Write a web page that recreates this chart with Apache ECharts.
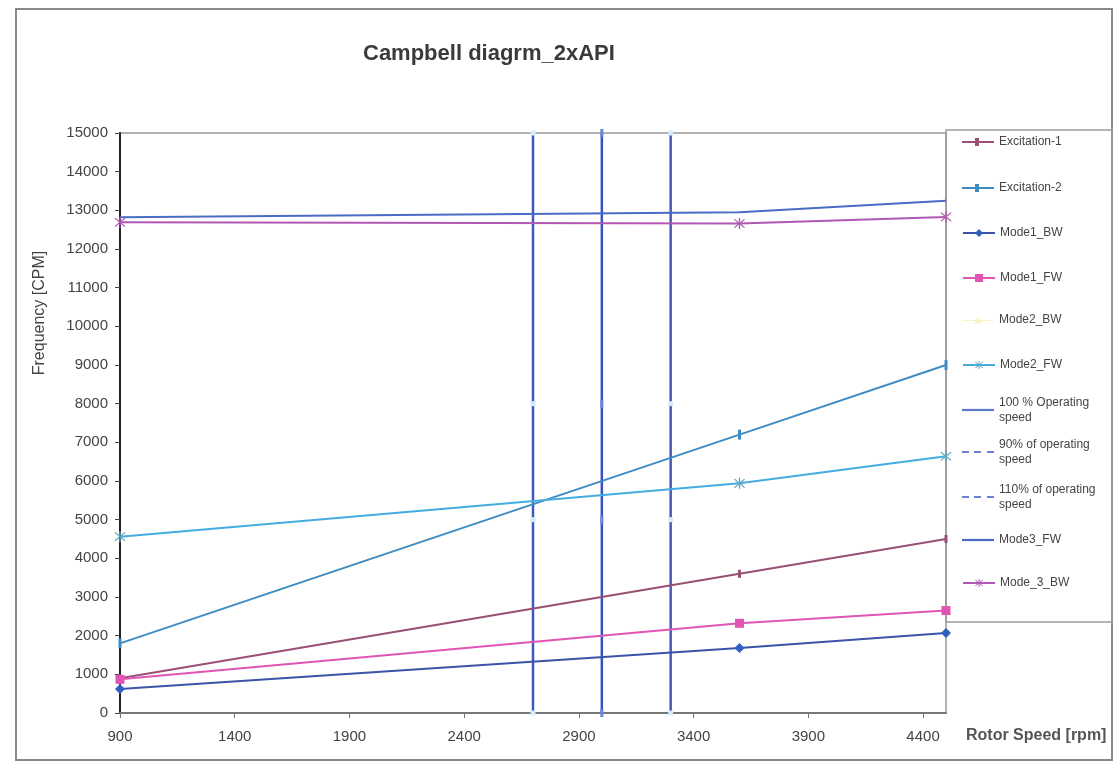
<!DOCTYPE html>
<html>
<head>
<meta charset="utf-8">
<script src="https://cdn.jsdelivr.net/npm/echarts@6/dist/echarts.min.js"></script>
<style>
html,body{margin:0;padding:0;background:#fff;}
#chart{width:1117px;height:764px;}
</style>
</head>
<body>
<div id="chart"></div>
<script>
// ---- data ----
const speedPoints = [900, 3600, 4500];           // rotor speed [rpm]
const excitation1 = [900, 3600, 4500];           // 1x
const excitation2 = [1800, 7200, 9000];          // 2x
const mode1BW = [620, 1680, 2070];
const mode1FW = [870, 2320, 2650];
const mode2BW = [];                              // not visible in the picture
const mode2FW = [4560, 5940, 6640];
const mode3FW = [12820, 12950, 13250];
const mode3BW = [12690, 12660, 12830];
const operatingSpeed = 3000;
const speed90 = 2700;
const speed110 = 3300;
const verticalFreqs = [0, 5000, 8000, 15000];
const xTicks = {min: 900, max: 4500, interval: 500};
const yTicks = {min: 0, max: 15000, interval: 1000};

const FONT = "'Liberation Sans', Arial, sans-serif";
const plusPath = 'path://M-1,-6H1V6H-1Z';
const legendPlus = 'path://M0,5H13V7H0Z M13,2H17V10H13Z M17,5H32V7H17Z';
const legendTri = 'path://M0,5.4H32V6.6H0Z M16,2L20,9H12Z';
const starPath = 'path://M-0.6,-6H0.6V6H-0.6Z M-5,-4.2L-4.2,-5L5,4.2L4.2,5Z M5,-4.2L4.2,-5L-5,4.2L-4.2,5Z';
const solidLine = 'path://M0,0H32V2.2H0Z';
const dashLine = 'path://M0,0H7V2.2H0Z M12,0H19V2.2H12Z M25,0H32V2.2H25Z';

function pairs(xs, ys){ return ys.map((y,i)=>[xs[i], y]); }
function vertical(x){ return verticalFreqs.map(f=>[x, f]); }

const series = [
  {name:'Excitation-1', color:'#9a4f74', data:pairs(speedPoints, excitation1), symbol:plusPath, symbolSize:[3,8], icon:legendPlus},
  {name:'Excitation-2', color:'#3f8cc2', data:pairs(speedPoints, excitation2), symbol:plusPath, symbolSize:[3,10], icon:legendPlus},
  {name:'Mode1_BW', color:'#3a55a8', data:pairs(speedPoints, mode1BW), symbol:'diamond', symbolSize:10, mcolor:'#2f5fc0'},
  {name:'Mode1_FW', color:'#e055b4', data:pairs(speedPoints, mode1FW), symbol:'rect', symbolSize:9},
  {name:'Mode2_BW', color:'#f6f4c0', data:mode2BW, symbol:'triangle', symbolSize:8, icon:legendTri},
  {name:'Mode2_FW', color:'#45ace0', data:pairs(speedPoints, mode2FW), symbol:starPath, symbolSize:11, mcolor:'#5aa6c0'},
  {name:'100 % Operating\nspeed', color:'#3b4fc0', data:vertical(operatingSpeed), symbol:plusPath, symbolSize:[3,8], width:2.5, mcolor:'#6a88d8', icon:solidLine, licolor:'#5b7bc8'},
  {name:'90% of operating\nspeed', color:'#4257c4', data:vertical(speed90), symbol:'rect', symbolSize:5, width:2.5, mcolor:'#d4ecfa', icon:dashLine, licolor:'#6a82cc'},
  {name:'110% of operating\nspeed', color:'#4a58b4', data:vertical(speed110), symbol:'rect', symbolSize:5, width:2.5, mcolor:'#d4ecfa', icon:dashLine, licolor:'#6a82cc'},
  {name:'Mode3_FW', color:'#4a6cc4', data:pairs(speedPoints, mode3FW), symbol:'none', symbolSize:0, icon:solidLine},
  {name:'Mode_3_BW', color:'#b058b4', data:pairs(speedPoints, mode3BW), symbol:starPath, symbolSize:11}
];

// legend item vertical centres (px)
const legendY = [142, 188, 233, 278, 320, 365, 410, 452, 497, 540, 583];
const multiLine = {6:true, 7:true, 8:true};

const legends = series.map((s,i)=>({
  orient:'vertical', left:962, top: multiLine[i] ? legendY[i] - 22.5 : legendY[i] - 7.5,
  itemWidth:32, itemHeight:10, itemGap:0, padding:0,
  selectedMode:false,
  textStyle:{fontFamily:FONT, fontSize:12, color:'#444', lineHeight:15,
             padding: multiLine[i] ? [15,0,0,0] : 0},
  data:[{name:s.name, icon:s.icon,
         itemStyle: s.icon ? {color: s.licolor || s.color} : undefined}]
}));

const chart = echarts.init(document.getElementById('chart'), null, {renderer:'canvas'});
chart.setOption({
  animation:false,
  backgroundColor:'#ffffff',
  title:{text:'Campbell diagrm_2xAPI', left:358, top:38,
         textStyle:{fontFamily:FONT, fontSize:22, fontWeight:'bold', color:'#3a3a3a'}},
  grid:{left:120, right:171, top:133, bottom:51, show:true, borderColor:'#999', borderWidth:1.5},
  legend: legends,
  xAxis:{type:'value', min:xTicks.min, max:xTicks.max, interval:xTicks.interval,
    axisLine:{show:true, lineStyle:{color:'#777', width:2}},
    axisTick:{show:true, inside:false, length:5, lineStyle:{color:'#777'}},
    splitLine:{show:false},
    axisLabel:{showMaxLabel:false, margin:16, fontFamily:FONT, fontSize:15, color:'#444',
               formatter:v=>String(v)}},
  yAxis:{type:'value', min:yTicks.min, max:yTicks.max, interval:yTicks.interval,
    axisLine:{show:true, lineStyle:{color:'#222', width:2}},
    axisTick:{show:true, inside:false, length:5, lineStyle:{color:'#444'}},
    splitLine:{show:false},
    axisLabel:{margin:12, fontFamily:FONT, fontSize:15, color:'#444', formatter:v=>String(v)}},
  graphic:[
    {type:'rect', shape:{x:16, y:9, width:1096, height:751}, style:{fill:'none', stroke:'#8a8a8a', lineWidth:2}, silent:true, z:-1},
    {type:'rect', shape:{x:946, y:130, width:166, height:492}, style:{fill:'none', stroke:'#9a9a9a', lineWidth:1.5}, silent:true, z:-1},
    {type:'text', x:40, y:313, rotation:Math.PI/2, style:{text:'Frequency [CPM]', fontFamily:FONT, fontSize:16, fill:'#444', textAlign:'center', textVerticalAlign:'middle'}},
    {type:'text', x:966, y:736, style:{text:'Rotor Speed [rpm]', fontFamily:FONT, fontSize:16, fontWeight:'bold', fill:'#555', textAlign:'left', textVerticalAlign:'middle'}}
  ],
  series: series.map(s=>({
    name:s.name, type:'line', data:s.data, symbol:s.symbol, symbolSize:s.symbolSize,
    showSymbol: s.symbol!=='none',
    lineStyle:{color:s.color, width:s.width||2},
    itemStyle:{color:s.mcolor||s.color},
    z: s.width ? 1 : 2
  }))
});
</script>
</body>
</html>
